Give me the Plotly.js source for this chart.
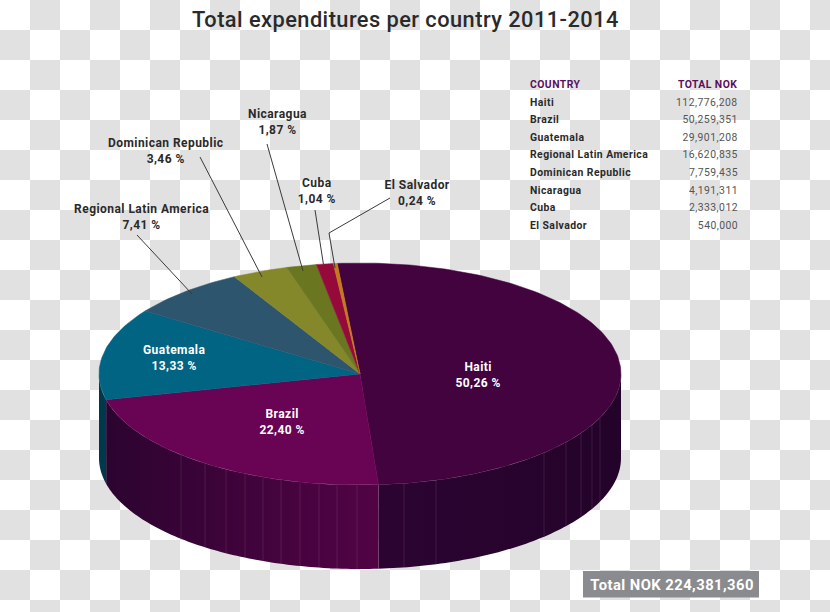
<!DOCTYPE html>
<html><head><meta charset="utf-8">
<script src="https://cdn.plot.ly/plotly-3.0.1.min.js"></script>
<style>
html,body{margin:0;padding:0;width:830px;height:612px;overflow:hidden;background-color:#fff;
background-image:conic-gradient(#e1e1e1 25%,#fff 25% 50%,#e1e1e1 50% 75%,#fff 75%);background-size:60px 60px;background-position:0 0}
#chart{width:830px;height:612px}
#chart svg text{letter-spacing:0.45px}
</style></head><body><div id="chart"></div>
<script>
const countries=["Haiti","Brazil","Guatemala","Regional Latin America","Dominican Republic","Nicaragua","Cuba","El Salvador"];
const totals=[112776208,50259351,29901208,16620835,7759435,4191311,2333012,540000];
const percentLabels=["50,26 %","22,40 %","13,33 %","7,41 %","3,46 %","1,87 %","1,04 %","0,24 %"];
const totalLabels=["112,776,208","50,259,351","29,901,208","16,620,835","7,759,435","4,191,311","2,333,012","540,000"];
const topColors=["#43033f","#690354","#006482","#2e556e","#84882a","#6a7620","#950a3a","#c47a1a"];
const wallColors=[["#2c0432","#230329"],["#2c0430","#520345"],["#00384e","#00384e"],["#1b3344","#1b3344"],["#4f5219","#4f5219"],["#404713","#404713"],["#5a0623","#5a0623"],["#764910","#764910"]];
const seamX=[181,205,226,245,263,281,300,319,337,357,404,436,544,566,581,592,600];
const F="Roboto, sans-serif";
const cx=360,cy=374,rx=261,ry=111,depth=84,startDeg=-5;
const sum=totals.reduce((a,b)=>a+b,0);
const rad=d=>d*Math.PI/180;
const px=d=>cx+rx*Math.sin(rad(d));
const py=d=>cy-ry*Math.cos(rad(d));
let traces=[];
let a=startDeg;
const spans=totals.map(v=>{const s=[a,a+v/sum*360];a=s[1];return s;});
spans.forEach((s,i)=>{
  const lo=Math.max(s[0],90),hi=Math.min(s[1],270);
  if(hi<=lo)return;
  const xs=[],ys=[];
  for(let k=0;k<=80;k++){const d=lo+(hi-lo)*k/80;xs.push(px(d));ys.push(py(d));}
  for(let k=80;k>=0;k--){const d=lo+(hi-lo)*k/80;xs.push(px(d));ys.push(py(d)+depth);}
  xs.push(xs[0]);ys.push(ys[0]);
  const c=wallColors[i];
  traces.push({type:"scatter",mode:"none",x:xs,y:ys,fill:"toself",fillgradient:{type:"horizontal",colorscale:[[0,c[0]],[1,c[1]]]},hoverinfo:"skip",showlegend:false});
});
const hairX=[],hairY=[];
seamX.forEach(x=>{const t=(x-cx)/rx,yy=cy+ry*Math.sqrt(1-t*t);hairX.push(x,x,null);hairY.push(yy,yy+depth,null);});
traces.push({type:"scatter",mode:"lines",x:hairX,y:hairY,line:{color:"rgba(170,110,160,0.2)",width:1},hoverinfo:"skip",showlegend:false});
spans.forEach((s,i)=>{
  const xs=[cx],ys=[cy],n=Math.max(8,Math.ceil(s[1]-s[0]));
  for(let k=0;k<=n;k++){const d=s[0]+(s[1]-s[0])*k/n;xs.push(px(d));ys.push(py(d));}
  xs.push(cx);ys.push(cy);
  traces.push({type:"scatter",mode:"lines",x:xs,y:ys,fill:"toself",fillcolor:topColors[i],line:{color:topColors[i],width:0.5},name:countries[i],text:percentLabels[i],hoverinfo:"name+text",showlegend:false});
});
const leaderX=[137,192,null,200,262,null,267,303,null,315,324,null,390,329,335];
const leaderY=[235,294,null,157,277,null,144,271,null,210,268,null,198,233,268];
traces.push({type:"scatter",mode:"lines",x:leaderX,y:leaderY,line:{color:"#3a3a3a",width:1},hoverinfo:"skip",showlegend:false});
const ann=[];
const T=(x,y,text,size,color,anchor,bold)=>ann.push({xref:"x",yref:"y",x,y,text:bold?"<b>"+text+"</b>":text,showarrow:false,xanchor:anchor,yanchor:"middle",font:{family:F,size,color},align:anchor});
const labelPos=[[477.5,375,"#ffffff"],[282,422,"#ffffff"],[174.5,358,"#ffffff"],[142,217,"#2a2a2a"],[165,151,"#2a2a2a"],[278,122,"#2a2a2a"],[316.5,190.5,"#2a2a2a"],[417.5,192.5,"#2a2a2a"]];
countries.forEach((c,i)=>{const p=labelPos[i];T(p[0],p[1],c+"<br>"+percentLabels[i],12,p[2],"center",true);});
T(527.5,84,"COUNTRY",10.4,"#5a0f5c","left",true);
T(740,84,"TOTAL NOK",10.4,"#5a0f5c","right",true);
countries.forEach((c,i)=>{const y=102+i*17.6;T(527.5,y,c,10.4,"#2a2a2a","left",true);T(740,y,totalLabels[i],10.4,"#555555","right",false);});
T(671.5,584.5,"Total NOK 224,381,360",14.8,"#ffffff","center",true);
const layout={width:830,height:612,margin:{l:0,r:0,t:0,b:0},paper_bgcolor:"rgba(0,0,0,0)",plot_bgcolor:"rgba(0,0,0,0)",
 title:{text:"Total expenditures per country 2011-2014",font:{family:F,size:21.8,weight:500,color:"#2a2a2a"},x:0.4885,xanchor:"center",y:0.968,yanchor:"middle"},
 xaxis:{range:[0,830],visible:false,fixedrange:true},
 yaxis:{range:[612,0],visible:false,fixedrange:true},
 shapes:[{type:"rect",xref:"x",yref:"y",x0:583,x1:759,y0:571,y1:597.5,fillcolor:"#8a8b8e",line:{width:0},layer:"below"}],
 annotations:ann,showlegend:false};
Plotly.newPlot("chart",traces,layout,{displayModeBar:false,staticPlot:true});
</script></body></html>
